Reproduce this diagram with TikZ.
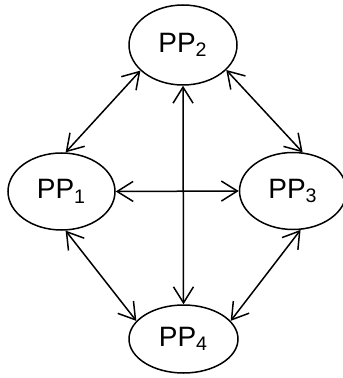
\documentclass[tikz,border=0pt]{standalone}
\usepackage{fontspec}
\setmainfont{Liberation Sans}
\usepackage{tikz}
\usetikzlibrary{arrows.meta, shapes.geometric}

\begin{document}
\begin{tikzpicture}[x=0.5pt, y=-0.5pt,
    pp/.style={ellipse, draw, line width=0.75pt, inner sep=0pt,
        font=\fontsize{14}{16}\selectfont},
    link/.style={{Straight Barb[length=8pt, width=10pt]}-{Straight Barb[length=8pt, width=10pt]}, line width=0.75pt}]
    % Frame
    \useasboundingbox (0,0) rectangle (342,378);

    % Processes
    \node[pp, minimum width=53.5pt, minimum height=38.5pt] (pp1) at (61.5,191.5) {PP\textsubscript{1}};
    \node[pp, minimum width=54pt, minimum height=40pt] (pp2) at (183,45) {PP\textsubscript{2}};
    \node[pp, minimum width=53.5pt, minimum height=38.5pt] (pp3) at (293,191) {PP\textsubscript{3}};
    \node[pp, minimum width=54.5pt, minimum height=34pt] (pp4) at (183.5,339) {PP\textsubscript{4}};

    % Links
    \draw[link] (pp1.84) -- (pp2.211);
    \draw[link] (pp2.330) -- (pp3.76);
    \draw[link] (pp1.276) -- (pp4.159);
    \draw[link] (pp3.281) -- (pp4.21);
    \draw[link] (pp1.east) -- (pp3.west);
    \draw[link] (pp2.south) -- (pp4.north);
\end{tikzpicture}
\end{document}
